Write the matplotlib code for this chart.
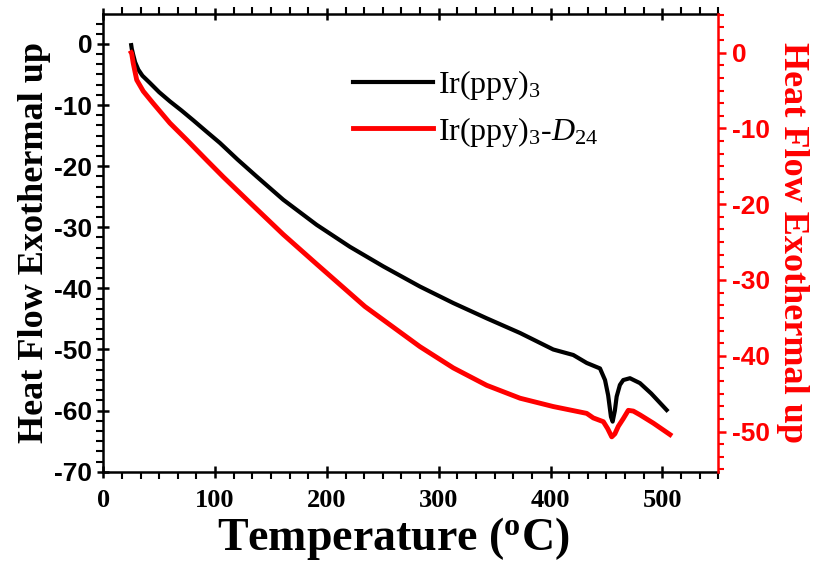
import matplotlib
matplotlib.use("Agg")
import matplotlib.pyplot as plt
from matplotlib.ticker import MultipleLocator, AutoMinorLocator

plt.rcParams['axes.unicode_minus'] = False
plt.rcParams['mathtext.fontset'] = 'custom'
plt.rcParams['mathtext.rm'] = 'Liberation Serif'
plt.rcParams['mathtext.it'] = 'Liberation Serif:italic'
plt.rcParams['mathtext.bf'] = 'Liberation Serif:bold'

# Ir(ppy)3, left axis
black_T = [25.0, 25.5, 26.8, 28.5, 31.3, 35.0, 41.8, 50.0, 59.6, 70.0, 80.5, 92.0,
           104.3, 120.0, 137.2, 161.0, 190.8, 220.6, 250.4, 283.2, 313.0, 342.9,
           372.7, 402.4, 420.3, 432.3, 444.2, 448.7, 451.5, 454.0, 455.5, 457.5,
           459.1, 462.0, 465.0, 471.0, 479.9, 490.0, 503.8]
black_v = [-0.2, -0.8, -1.8, -3.0, -4.2, -5.2, -6.4, -7.9, -9.4, -10.9, -12.5, -14.3,
           -16.2, -18.9, -21.7, -25.5, -29.6, -33.2, -36.4, -39.7, -42.4, -44.9,
           -47.3, -50.0, -50.9, -52.2, -53.1, -55.0, -57.5, -61.0, -61.8, -60.0,
           -57.7, -55.8, -55.0, -54.7, -55.5, -57.2, -59.9]

# Ir(ppy)3-D24, right axis
red_T = [25.0, 25.4, 26.8, 29.9, 35.8, 44.7, 59.6, 74.6, 92.5, 107.3, 131.2, 161.0,
         190.8, 234.0, 283.2, 313.0, 342.9, 372.7, 402.4, 432.3, 438.2, 447.2, 451.0,
         454.7, 457.5, 460.6, 465.0, 469.5, 474.0, 480.0, 492.0, 506.8]
red_v = [0.0, -0.1, -1.4, -3.6, -5.1, -6.7, -9.3, -11.5, -14.2, -16.4, -19.8, -24.0,
         -27.9, -33.5, -38.8, -41.6, -43.9, -45.6, -46.7, -47.6, -48.2, -48.7, -49.6,
         -50.7, -50.3, -49.3, -48.3, -47.2, -47.3, -47.8, -48.9, -50.4]

labels = [r'Ir(ppy)$_3$', r'Ir(ppy)$_3$-$\mathit{D_{24}}$']

fig = plt.figure(figsize=(8.17, 5.68), dpi=100)
ax = fig.add_axes([0.1264, 0.1695, 0.7528, 0.8059])
ax2 = ax.twinx()

l1, = ax.plot(black_T, black_v, color='black', lw=3)
l2, = ax2.plot(red_T, red_v, color='red', lw=3.5)

ax.set_xlim(0, 550)
ax.set_ylim(-70, 4.9)
ax2.set_ylim(-55.3, 5.1)

ax.xaxis.set_major_locator(MultipleLocator(100))
ax.xaxis.set_minor_locator(AutoMinorLocator(6))
ax.yaxis.set_major_locator(MultipleLocator(10))
ax.yaxis.set_minor_locator(AutoMinorLocator(6))
ax2.yaxis.set_major_locator(MultipleLocator(10))
ax2.yaxis.set_minor_locator(AutoMinorLocator(6))

for s in ['left', 'bottom', 'top']:
    ax.spines[s].set_linewidth(1.8)
ax.spines['right'].set_visible(False)
ax2.spines['right'].set_color('red')
ax2.spines['right'].set_linewidth(1.8)
for s in ['left', 'bottom', 'top']:
    ax2.spines[s].set_visible(False)

ax.tick_params(axis='x', which='major', direction='inout', length=9, width=1.8,
               top=True, pad=8)
ax.tick_params(axis='x', which='minor', direction='out', length=5, width=1.5, top=True)
ax.tick_params(axis='y', which='major', direction='inout', length=9, width=1.8)
ax.tick_params(axis='y', which='minor', direction='out', length=5, width=1.5)
ax2.tick_params(axis='y', which='major', direction='out', length=6, width=1.8,
                colors='red', labelcolor='red')
ax2.tick_params(axis='y', which='minor', direction='out', length=4, width=1.5,
                colors='red')

for t in ax.get_xticklabels():
    t.set_fontfamily('Liberation Serif')
    t.set_fontweight('bold')
    t.set_fontsize(19)
for t in ax.get_yticklabels() + ax2.get_yticklabels():
    t.set_fontfamily('Liberation Sans')
    t.set_fontweight('bold')
    t.set_fontsize(19)

ax.set_xlabel(r'Temperature ($\mathbf{^o}$C)', family='Liberation Serif',
              fontweight='bold', fontsize=33, labelpad=2)
ax.xaxis.label.set_x(0.472)
ax.set_ylabel('Heat Flow Exothermal up', family='Liberation Serif',
              fontweight='bold', fontsize=26, labelpad=2)
ax2.set_ylabel('Heat Flow Exothermal up', family='Liberation Serif',
               fontweight='bold', fontsize=26, color='red', rotation=270, labelpad=28)

ax2.legend([l1, l2], labels, loc='upper left', bbox_to_anchor=(0.36, 0.945),
           frameon=False, prop={'family': 'Liberation Serif', 'size': 23},
           handlelength=2.5, handletextpad=0.15, labelspacing=0.4)

fig.savefig('out.png', dpi=100)
